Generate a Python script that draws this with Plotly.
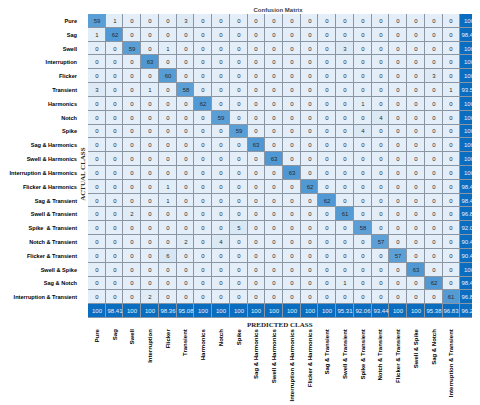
import plotly.graph_objects as go

# Classes (rows = actual, columns = predicted)
classes = ['Pure', 'Sag', 'Swell', 'Interruption', 'Flicker', 'Transient',
           'Harmonics', 'Notch', 'Spike', 'Sag & Harmonics',
           'Swell & Harmonics', 'Interruption & Harmonics',
           'Flicker & Harmonics', 'Sag & Transient', 'Swell & Transient',
           'Spike  & Transient', 'Notch & Transient', 'Flicker & Transient',
           'Swell & Spike', 'Sag & Notch', 'Interruption & Transient']
x_labels = ['Pure', 'Sag', 'Swell', 'Interruption', 'Flicker', 'Transient',
            'Harmonics', 'Notch', 'Spike', 'Sag & Harmonics',
            'Swell & Harmonics', 'Interruption & Harmonics',
            'Flicker & Harmonics', 'Sag & Transient', 'Swell & Transient',
            'Spike & Transient', 'Notch & Transient', 'Flicker & Transient',
            'Swell & Spike', 'Sag & Notch', 'Interruption & Transient']

counts = [
    [59, 1, 0, 0, 0, 3, 0, 0, 0, 0, 0, 0, 0, 0, 0, 0, 0, 0, 0, 0, 0],
    [1, 62, 0, 0, 0, 0, 0, 0, 0, 0, 0, 0, 0, 0, 0, 0, 0, 0, 0, 0, 0],
    [0, 0, 59, 0, 1, 0, 0, 0, 0, 0, 0, 0, 0, 0, 3, 0, 0, 0, 0, 0, 0],
    [0, 0, 0, 63, 0, 0, 0, 0, 0, 0, 0, 0, 0, 0, 0, 0, 0, 0, 0, 0, 0],
    [0, 0, 0, 0, 60, 0, 0, 0, 0, 0, 0, 0, 0, 0, 0, 0, 0, 0, 0, 3, 0],
    [3, 0, 0, 1, 0, 58, 0, 0, 0, 0, 0, 0, 0, 0, 0, 0, 0, 0, 0, 0, 1],
    [0, 0, 0, 0, 0, 0, 62, 0, 0, 0, 0, 0, 0, 0, 0, 1, 0, 0, 0, 0, 0],
    [0, 0, 0, 0, 0, 0, 0, 59, 0, 0, 0, 0, 0, 0, 0, 0, 4, 0, 0, 0, 0],
    [0, 0, 0, 0, 0, 0, 0, 0, 59, 0, 0, 0, 0, 0, 0, 4, 0, 0, 0, 0, 0],
    [0, 0, 0, 0, 0, 0, 0, 0, 0, 63, 0, 0, 0, 0, 0, 0, 0, 0, 0, 0, 0],
    [0, 0, 0, 0, 0, 0, 0, 0, 0, 0, 63, 0, 0, 0, 0, 0, 0, 0, 0, 0, 0],
    [0, 0, 0, 0, 0, 0, 0, 0, 0, 0, 0, 63, 0, 0, 0, 0, 0, 0, 0, 0, 0],
    [0, 0, 0, 0, 1, 0, 0, 0, 0, 0, 0, 0, 62, 0, 0, 0, 0, 0, 0, 0, 0],
    [0, 0, 0, 0, 1, 0, 0, 0, 0, 0, 0, 0, 0, 62, 0, 0, 0, 0, 0, 0, 0],
    [0, 0, 2, 0, 0, 0, 0, 0, 0, 0, 0, 0, 0, 0, 61, 0, 0, 0, 0, 0, 0],
    [0, 0, 0, 0, 0, 0, 0, 0, 5, 0, 0, 0, 0, 0, 0, 58, 0, 0, 0, 0, 0],
    [0, 0, 0, 0, 0, 2, 0, 4, 0, 0, 0, 0, 0, 0, 0, 0, 57, 0, 0, 0, 0],
    [0, 0, 0, 0, 6, 0, 0, 0, 0, 0, 0, 0, 0, 0, 0, 0, 0, 57, 0, 0, 0],
    [0, 0, 0, 0, 0, 0, 0, 0, 0, 0, 0, 0, 0, 0, 0, 0, 0, 0, 63, 0, 0],
    [0, 0, 0, 0, 0, 0, 0, 0, 0, 0, 0, 0, 0, 0, 1, 0, 0, 0, 0, 62, 0],
    [0, 0, 0, 2, 0, 0, 0, 0, 0, 0, 0, 0, 0, 0, 0, 0, 0, 0, 0, 0, 61],
]

# right column (per actual class) and bottom row (per predicted class)
row_pct = ['100', '98.41', '100', '100', '100', '93.55', '100', '100', '100',
           '100', '100', '100', '98.41', '98.41', '96.83', '92.06', '90.48',
           '90.48', '100', '98.41', '96.83']
col_pct = ['100', '98.41', '100', '100', '98.36', '95.08', '100', '100', '100',
           '100', '100', '100', '100', '100', '95.31', '92.06', '93.44', '100',
           '100', '95.38', '96.83']
overall = '96.25'

n = len(classes)
idx = list(range(n + 1))

# Count cells (light -> medium blue)
z_cnt = [[v for v in row] + [None] for row in counts] + [[None] * (n + 1)]
t_cnt = [[str(v) for v in row] + [''] for row in counts] + [[''] * (n + 1)]

# Summary cells (dark blue)
z_sum = [[None] * n + [1] for _ in range(n)] + [[1] * (n + 1)]
t_sum = [[''] * n + [row_pct[i]] for i in range(n)] + [col_pct + [overall]]

fig = go.Figure()
fig.add_trace(go.Heatmap(
    z=z_cnt, x=idx, y=idx, text=t_cnt, texttemplate='%{text}',
    textfont=dict(size=6, color='#2b2b2b', family='Liberation Sans'),
    colorscale=[[0, '#e3eef8'], [0.1, '#d6e6f4'], [1, '#4f98d3']],
    zmin=0, zmax=63, showscale=False, xgap=1, ygap=1, hoverinfo='skip'))
fig.add_trace(go.Heatmap(
    z=z_sum, x=idx, y=idx, text=t_sum, texttemplate='%{text}',
    textfont=dict(size=6, color='#e8f1fa', family='Liberation Sans'),
    colorscale=[[0, '#0b6dc0'], [1, '#0b6dc0']],
    showscale=False, xgap=1, ygap=1, hoverinfo='skip'))

# page adds an 8px body margin, so the figure is sized to fit the window
fig.update_layout(
    width=472, height=397,
    margin=dict(l=80, r=2, t=6, b=87, autoexpand=False),
    paper_bgcolor='white', plot_bgcolor='#8a96a3',
    title=dict(text='<b>Confusion Matrix</b>', x=0.572, y=1,
               xanchor='center', yanchor='top', pad=dict(t=0, b=0),
               font=dict(size=6, color='#444', family='Liberation Sans')),
    xaxis=dict(tickvals=list(range(n)), ticktext=x_labels, tickangle=-90,
               range=[-0.5, n + 0.5], showgrid=False, zeroline=False,
               ticks='', ticklabelstandoff=9, automargin=False,
               tickfont=dict(size=6, color='black', family='Liberation Sans',
                             weight='bold')),
    yaxis=dict(tickvals=list(range(n)), ticktext=classes,
               range=[n + 0.5, -0.5], showgrid=False, zeroline=False,
               ticks='', ticklabelstandoff=10, automargin=False,
               tickfont=dict(size=5.6, color='black',
                             family='Liberation Sans', weight='bold')),
    annotations=[
        dict(text='<b>ACTUAL CLASS</b>', xref='paper', yref='paper',
             x=-0.013, y=0.474, textangle=-90, showarrow=False,
             xanchor='center', yanchor='middle',
             font=dict(size=7, color='#222', family='Liberation Serif')),
        dict(text='<b>PREDICTED CLASS</b>', xref='paper', yref='paper',
             x=0.492, y=-0.003, showarrow=False,
             xanchor='center', yanchor='top',
             font=dict(size=7, color='#222', family='Liberation Serif')),
    ],
)

fig.write_html('out.html')
